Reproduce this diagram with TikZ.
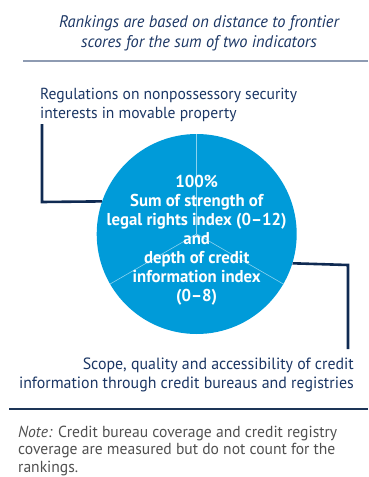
\documentclass[tikz,border=0pt]{standalone}
\usepackage{fontspec}
\setmainfont{PT Sans}[FakeStretch=0.975]
\definecolor{navy}{HTML}{1B3664}
\definecolor{linkc}{HTML}{0F2A52}
\definecolor{disc}{HTML}{009BD9}
\definecolor{rulegrey}{HTML}{8E9BB2}
\definecolor{ruledark}{HTML}{1D3557}
\definecolor{notegrey}{HTML}{505050}
\tikzset{
  lbl/.style={inner sep=0pt, text=navy, font=\fontsize{16}{18.3}\selectfont},
  conn/.style={draw=linkc, line width=2.6pt},
  spoke/.style={draw=white!55!disc, line width=0.6pt},
}
\begin{document}
\begin{tikzpicture}[x=1pt,y=-1pt]
\useasboundingbox (0,0) rectangle (368,477);
% title
\node[lbl, anchor=base, align=center, font=\fontsize{16.8}{20}\selectfont\itshape] (title) at (199,47)
  {Rankings are based on distance to frontier\\scores for the sum of two indicators};
\coordinate (g1) at (23,61);
\coordinate (g2) at (368,61);
\draw[rulegrey, line width=1.6pt] (g1) -- (g2);
% circle
\node[circle, fill=disc, minimum size=200pt, inner sep=0pt] (pie) at (196.7,234) {};
\draw[spoke] (pie.center) -- (pie.90);
\draw[spoke] (pie.center) -- (pie.210);
\draw[spoke] (pie.center) -- (pie.330);
\node[inner sep=0pt, text=white, align=center, anchor=base, font=\fontsize{17.2}{19}\selectfont\bfseries] (ctext) at (196.7,301)
  {100\%\\Sum of strength of\\legal rights index (0--12)\\and\\depth of credit\\information index\\(0--8)};
% left label
\node[lbl, anchor=base west, align=left] (reg) at (40,118)
  {Regulations on nonpossessory security\\interests in movable property};
\coordinate (l1) at (42,124);
\coordinate (l2) at (42,202);
\draw[conn] (l1) -- (l2) -- (pie.{180-18.7});
% right label
\node[lbl, anchor=base east, align=right, font=\fontsize{16.3}{18.3}\selectfont] (scope) at (354,388)
  {Scope, quality and accessibility of credit\\information through credit bureaus and registries};
\coordinate (r1) at (348,265);
\coordinate (r2) at (348,349);
\draw[conn] (pie.{-17.5}) -- (r1) -- (r2);
% bottom rule
\coordinate (b1) at (9,409);
\coordinate (b2) at (368,409);
\draw[ruledark, line width=2.6pt] (b1) -- (b2);
\node[inner sep=0pt, anchor=base west, align=left, text=notegrey, font=\fontsize{16}{17.5}\selectfont] (note) at (18,472)
  {\textit{Note:} Credit bureau coverage and credit registry\\coverage are measured but do not count for the\\rankings.};
\end{tikzpicture}
\end{document}
